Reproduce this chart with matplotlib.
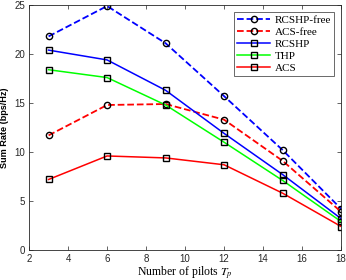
import numpy as np
import matplotlib.pyplot as plt

plt.rcParams['font.family'] = ['Liberation Sans', 'DejaVu Sans']
plt.rcParams['mathtext.fontset'] = 'stix'

# pilot counts and sum rates (bps/Hz)
pilots = [3, 6, 9, 12, 15, 18]
rcshp_free = [21.8, 24.9, 21.1, 15.7, 10.2, 4.2]
acs_free = [11.7, 14.8, 14.9, 13.3, 9.1, 3.9]
rcshp = [20.4, 19.4, 16.3, 11.9, 7.7, 3.2]
thp = [18.4, 17.6, 14.8, 11.0, 7.1, 2.9]
acs = [7.2, 9.6, 9.4, 8.7, 5.8, 2.4]

fig = plt.figure(figsize=(3.46, 2.80), dpi=100)
ax = fig.add_axes([0.084, 0.107, 0.902, 0.875])

mk = dict(markersize=4.5, markerfacecolor='none', markeredgecolor='black', markeredgewidth=1.0)
ax.plot(pilots, rcshp_free, '--o', color='blue', lw=1.3, label='RCSHP-free', **mk)
ax.plot(pilots, acs_free, '--o', color='red', lw=1.3, label='ACS-free', **mk)
ax.plot(pilots, rcshp, '-s', color='blue', lw=1.1, label='RCSHP', **mk)
ax.plot(pilots, thp, '-s', color='#00ff00', lw=1.1, label='THP', **mk)
ax.plot(pilots, acs, '-s', color='red', lw=1.1, label='ACS', **mk)

ax.set_xlim(2, 18)
ax.set_ylim(0, 25)
ax.set_xticks([2, 4, 6, 8, 10, 12, 14, 16, 18])
ax.set_yticks([0, 5, 10, 15, 20, 25])
ax.tick_params(direction='in', top=True, right=True, labelsize=7, length=3, width=0.5,
               colors='#262626', pad=3)
for s in ax.spines.values():
    s.set_linewidth(0.6)
    s.set_color('#262626')

ax.set_xlabel('Number of pilots $T_p$', family='Liberation Serif', fontsize=8.5, labelpad=0)
ax.set_ylabel('Sum Rate (bps/Hz)', fontweight='bold', fontsize=6.6, labelpad=3.5)

leg = ax.legend(loc='upper right', prop={'family': 'Liberation Serif', 'size': 8}, handlelength=3.0,
                fancybox=False, edgecolor='#262626', borderaxespad=0.6, labelspacing=0.2,
                handletextpad=0.4, borderpad=0.3)
leg.get_frame().set_linewidth(0.6)

fig.savefig('out.png', dpi=100)
